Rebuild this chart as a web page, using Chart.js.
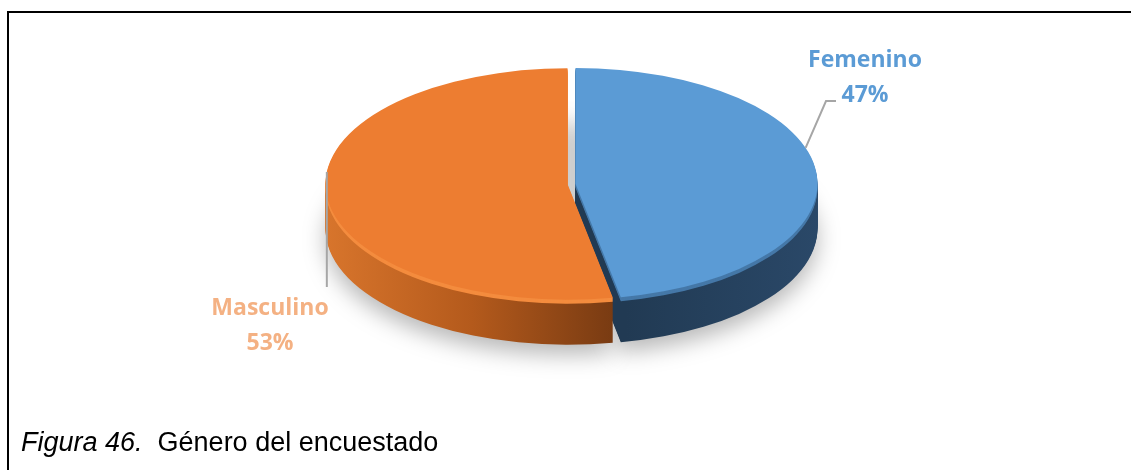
<!DOCTYPE html>
<html>
<head>
<meta charset="utf-8">
<script src="https://cdn.jsdelivr.net/npm/chart.js@4.4.1/dist/chart.umd.min.js"></script>
<style>
  html, body { margin: 0; padding: 0; background: #fff; }
  #wrap { position: relative; width: 1131px; height: 470px; overflow: hidden; }
  #frame { position: absolute; left: 7px; top: 11px; width: 1200px; height: 500px;
           border-top: 2px solid #000; border-left: 2px solid #000; }
  #pie { position: absolute; left: 0; top: 0; }
  #caption { position: absolute; left: 21px; top: 427px; line-height: 30px; white-space: pre;
             font-family: "Liberation Sans", Arial, sans-serif; font-size: 27px; color: #000; }
</style>
</head>
<body>
<div id="wrap">
  <div id="frame"></div>
  <canvas id="pie" width="1131" height="470"></canvas>
  <div id="caption"><i>Figura 46.</i>  Género del encuestado</div>
</div>
<script>
// values
const categories = ['Femenino', 'Masculino'];
const shares = [47, 53];

const topColors = ['#5b9bd5', '#ed7d31'];
const rimColors = ['#4578a8', '#f48c3e'];
const labelColors = ['#5b9bd5', '#f4b183'];

const TILT = 0.478;   // vertical squash of the disc
const DEPTH = 45;     // thickness of the disc in px
const RIM = 4;

// manual label placement, like the source (angle = clockwise from 12 o'clock)
const labelSpots = [
  {angle: 72, path: [[826, 101], [836, 101]], at: [865, 67]},
  {angle: 276, path: [[323, 287]], at: [270, 315]}
];

const pie3d = {
  id: 'pie3d',
  beforeDatasetDraw(chart) {
    const ctx = chart.ctx;
    const arcs = chart.getDatasetMeta(0).data;
    const cx = arcs[0].x, cy = arcs[0].y, r = arcs[0].outerRadius;

    const orangeSide = ctx.createLinearGradient(cx - r, 0, cx + 50, 0);
    orangeSide.addColorStop(0, '#d8752c');
    orangeSide.addColorStop(0.5, '#b45a1c');
    orangeSide.addColorStop(1, '#773a12');
    const blueSide = ctx.createLinearGradient(cx + 50, 0, cx + r, 0);
    blueSide.addColorStop(0, '#213a53');
    blueSide.addColorStop(1, '#2a4868');
    const sideColors = [blueSide, orangeSide];

    const layer = (dy, fills, shadow) => {
      ctx.save();
      if (shadow) {
        ctx.shadowColor = 'rgba(0,0,0,0.28)';
        ctx.shadowBlur = 22;
        ctx.shadowOffsetY = 10;
      }
      ctx.translate(cx, cy + dy);
      ctx.scale(1, TILT);
      ctx.translate(-cx, -cy);
      arcs.forEach((arc, i) => {
        const half = (arc.startAngle + arc.endAngle) / 2;
        const off = arc.options.offset || 0;
        ctx.save();
        ctx.translate(Math.cos(half) * off, Math.sin(half) * off);
        const ghost = Object.create(arc);
        ghost.options = Object.assign({}, arc.options, {backgroundColor: fills[i], offset: 0, borderWidth: 0});
        ghost.draw(ctx);
        ctx.restore();
      });
      ctx.restore();
    };

    layer(DEPTH, sideColors, true);
    for (let d = DEPTH - 1; d >= 1; d--) {
      layer(d, d <= RIM ? rimColors : sideColors, false);
    }
    layer(0, topColors, false);
    return false;
  },
  afterDraw(chart) {
    const ctx = chart.ctx;
    const arcs = chart.getDatasetMeta(0).data;
    const values = chart.data.datasets[0].data;
    const total = values.reduce((a, b) => a + b, 0);

    labelSpots.forEach((spot, i) => {
      const arc = arcs[i];
      const half = (arc.startAngle + arc.endAngle) / 2;
      const off = arc.options.offset || 0;
      const a = spot.angle * Math.PI / 180;
      const sx = arc.x + Math.sin(a) * arc.outerRadius + Math.cos(half) * off;
      const sy = arc.y + (-Math.cos(a) * arc.outerRadius + Math.sin(half) * off) * TILT;

      ctx.save();
      ctx.strokeStyle = '#a6a6a6';
      ctx.lineWidth = 2;
      ctx.beginPath();
      ctx.moveTo(sx, sy);
      spot.path.forEach(p => ctx.lineTo(i === 1 ? sx : p[0], p[1]));
      ctx.stroke();

      ctx.fillStyle = labelColors[i];
      ctx.font = 'bold 23px "Open Sans", sans-serif';
      ctx.textAlign = 'center';
      ctx.textBaseline = 'alphabetic';
      ctx.fillText(chart.data.labels[i], spot.at[0], spot.at[1]);
      ctx.fillText(Math.round(values[i] / total * 100) + '%', spot.at[0], spot.at[1] + 35);
      ctx.restore();
    });
  }
};

new Chart(document.getElementById('pie'), {
  type: 'pie',
  data: {
    labels: categories,
    datasets: [{
      data: shares,
      backgroundColor: topColors,
      offset: [8, 0],
      borderWidth: 0,
      radius: 242
    }]
  },
  options: {
    responsive: false,
    animation: false,
    rotation: 0,
    layout: {padding: {left: 4, bottom: 102}},
    plugins: {
      legend: {display: false},
      tooltip: {enabled: false}
    }
  },
  plugins: [pie3d]
});
</script>
</body>
</html>
